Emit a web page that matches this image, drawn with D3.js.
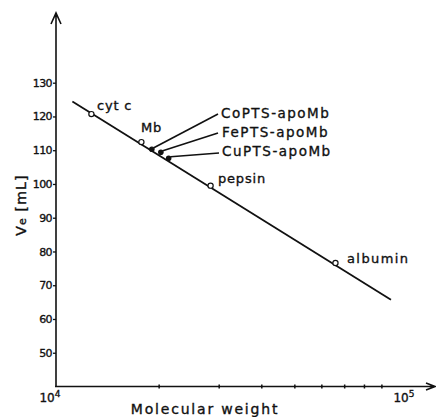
<!DOCTYPE html>
<html>
<head>
<meta charset="utf-8">
<script src="https://cdn.jsdelivr.net/npm/d3@7"></script>
<style>
body{margin:0;background:#fff;}
svg text{font-family:"DejaVu Sans",sans-serif;fill:#111;stroke:#111;stroke-width:0.35px;}
</style>
</head>
<body>
<svg id="chart"></svg>
<script>
// proteins
const names = ["cyt c", "Mb", "CoPTS-apoMb", "FePTS-apoMb", "CuPTS-apoMb", "pepsin", "albumin"];
const molWeight = [12700, 17800, 19100, 20300, 21400, 28400, 66000];
const elutionVol = [120.7, 112.4, 110.3, 109.4, 107.6, 99.5, 76.6];
const filled = [false, false, true, true, true, false, false];
// calibration line ends
const lineMW = [11170, 96000];
const lineVe = [124.4, 65.7];
const yTicks = [50, 60, 70, 80, 90, 100, 110, 120, 130];
const xTicks = [20000, 30000, 40000, 50000, 60000, 70000, 80000, 90000];

const width = 436, height = 417;
const svg = d3.select('#chart').attr('width', width).attr('height', height);

const x = d3.scaleLog().domain([1e4, 1e5]).range([56, 397]);
const y = d3.scaleLinear().domain([40, 130]).range([386.5, 82.7]);

// axes lines with arrows
svg.append('path')
    .attr('d', 'M56,387 L56,14 M51,24 L56,13 L61,24')
    .attr('fill', 'none').attr('stroke', '#111').attr('stroke-width', 1.6);
svg.append('path')
    .attr('d', 'M55,386.5 L434,386.5 M426,383 L435,386.5 L426,390')
    .attr('fill', 'none').attr('stroke', '#111').attr('stroke-width', 1.6);

// y axis ticks
let yAxis = svg.append('g')
    .attr('transform', 'translate(56,0)')
    .call(d3.axisLeft(y).tickValues(yTicks).tickSize(3).tickPadding(1));
yAxis.select('.domain').remove();
yAxis.selectAll('line').attr('stroke', '#111').attr('stroke-width', 1.3);
yAxis.selectAll('text')
    .style('font-size', '11px').style('letter-spacing', '-0.6px')
    .style('font-family', '"DejaVu Sans", sans-serif').attr('fill', '#111');

// x axis ticks
let xAxis = svg.append('g')
    .attr('transform', 'translate(0,386.5)')
    .call(d3.axisBottom(x).tickValues(xTicks).tickSize(2).tickFormat(''));
xAxis.select('.domain').remove();
xAxis.selectAll('line').attr('y1', -2).attr('y2', 2).attr('stroke', '#111').attr('stroke-width', 1.5);

// x tick labels 10^4 and 10^5
[[1e4, '4', -6], [1e5, '5', 7]].forEach(([v, p, dx]) => {
    let t = svg.append('text')
        .attr('x', x(v) + dx).attr('y', 402)
        .attr('text-anchor', 'middle')
        .style('font-size', '12px');
    t.append('tspan').text('10');
    t.append('tspan').attr('dy', -5).style('font-size', '9px').text(p);
});

svg.append('text')
    .attr('x', 205).attr('y', 414)
    .attr('text-anchor', 'middle')
    .style('font-size', '14px').style('letter-spacing', '1.8px')
    .text('Molecular weight');

let yl = svg.append('text')
    .attr('transform', 'translate(26,205) rotate(-90)')
    .attr('text-anchor', 'middle')
    .style('font-size', '14px').style('letter-spacing', '1.2px');
yl.append('tspan').text('V');
yl.append('tspan').style('font-size', '11px').text('e');
yl.append('tspan').text(' [mL]');

// calibration line
svg.append('line')
    .attr('x1', x(lineMW[0])).attr('y1', y(lineVe[0]))
    .attr('x2', x(lineMW[1])).attr('y2', y(lineVe[1]))
    .attr('stroke', '#111').attr('stroke-width', 1.8);

// points
const pts = names.map((n, i) => ({name: n, mw: molWeight[i], ve: elutionVol[i], filled: filled[i]}));
svg.selectAll('circle.pt')
    .data(pts)
    .enter()
    .append('circle')
    .attr('class', 'pt')
    .attr('cx', d => x(d.mw))
    .attr('cy', d => y(d.ve))
    .attr('r', d => d.filled ? 2.2 : 2.6)
    .attr('fill', d => d.filled ? '#111' : '#fff')
    .attr('stroke', '#111').attr('stroke-width', 1.2);

// label positions (text anchor points)
const labelPos = {
    'cyt c': [97, 110],
    'Mb': [141, 132],
    'CoPTS-apoMb': [221, 118],
    'FePTS-apoMb': [222, 137],
    'CuPTS-apoMb': [222, 156],
    'pepsin': [218, 183],
    'albumin': [347, 263]
};
const leaderStart = {
    'CoPTS-apoMb': [218, 114],
    'FePTS-apoMb': [218, 133],
    'CuPTS-apoMb': [219, 153]
};

svg.selectAll('line.leader')
    .data(pts.filter(d => leaderStart[d.name]))
    .enter()
    .append('line')
    .attr('class', 'leader')
    .attr('x1', d => leaderStart[d.name][0])
    .attr('y1', d => leaderStart[d.name][1])
    .attr('x2', d => x(d.mw) + 2)
    .attr('y2', d => y(d.ve) - 1.5)
    .attr('stroke', '#111').attr('stroke-width', 1.6);

svg.selectAll('text.lbl')
    .data(pts)
    .enter()
    .append('text')
    .attr('class', 'lbl')
    .attr('x', d => labelPos[d.name][0])
    .attr('y', d => labelPos[d.name][1])
    .style('font-size', d => d.filled ? '13.5px' : '13px')
    .style('letter-spacing', d => d.filled ? '1.5px' : (d.name === 'albumin' ? '1.4px' : '0.8px'))
    .text(d => d.name);
</script>
</body>
</html>
